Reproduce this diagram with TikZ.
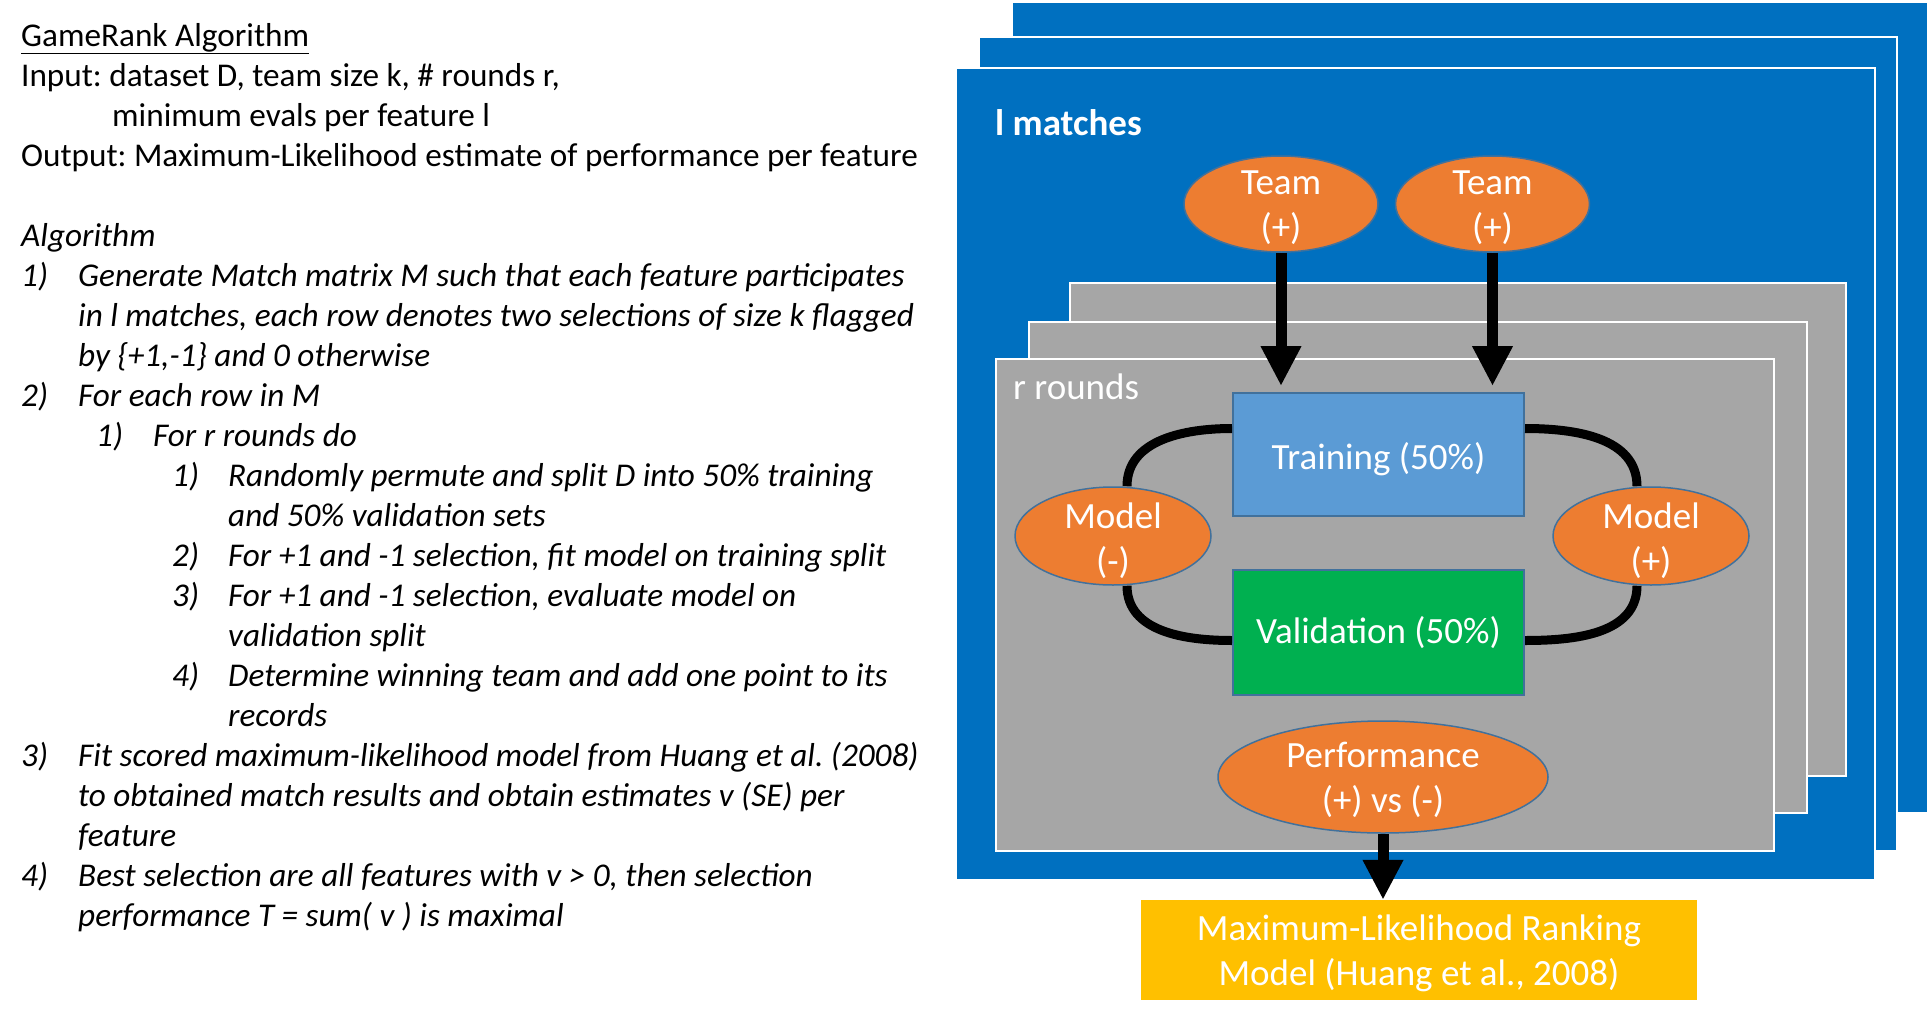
\documentclass[tikz,border=0pt]{standalone}
\usepackage{fontspec}
\setmainfont{Carlito}
\frenchspacing
\usetikzlibrary{positioning, arrows.meta, shapes.geometric}

\definecolor{matchblue}{HTML}{0070C0}
\definecolor{roundgrey}{HTML}{A6A6A6}
\definecolor{teamorange}{HTML}{ED7D31}
\definecolor{ovalline}{HTML}{41719C}
\definecolor{trainblue}{HTML}{5B9BD5}
\definecolor{validgreen}{HTML}{00B050}
\definecolor{rankyellow}{HTML}{FFC000}

% strut that moves the text of a node a little down
\newcommand{\lowstrut}[1]{\rule{0pt}{#1}}

\tikzset{
  algtxt/.style={anchor=base west, inner sep=0pt, font=\fontsize{33.2}{40}\selectfont},
  algit/.style={algtxt, font=\fontsize{33.2}{40}\selectfont\itshape},
  bluebox/.style={fill=matchblue, draw=white, line width=2.5pt},
  greybox/.style={fill=roundgrey, draw=white, line width=2.5pt},
  boxtitle/.style={anchor=base west, inner sep=0pt, text=white, font=\fontsize{37}{45}\selectfont},
  oval/.style={ellipse, fill=teamorange, draw=ovalline, line width=1.5pt, text=white, align=center,
    inner xsep=0pt, inner ysep=-14pt, font=\fontsize{37}{45}\selectfont},
  split/.style={rectangle, draw=ovalline, line width=2pt, text=white, minimum width=291pt,
    minimum height=123pt, font=\fontsize{37}{45}\selectfont},
  bigarrow/.style={line width=11pt, -{Triangle[width=38pt,length=40pt]}},
  link/.style={line width=9pt}
}

\begin{document}
\begin{tikzpicture}[x=1pt, y=1pt]
    \useasboundingbox (0,0) rectangle (1930,-1017);

    % Algorithm text
    \node[algtxt] (title) at (21,-46) {\underline{GameRank Algorithm}};
    \node[algtxt] (input) at (21,-86) {Input: dataset D, team size k, \# rounds r,};
    \node[algtxt] (input2) at (112,-126) {minimum evals per feature l};
    \node[algtxt] (output) at (21,-166) {Output: Maximum-Likelihood estimate of performance per feature};
    \node[algit] (algo) at (21,-246) {Algorithm};

    \foreach \y/\x/\n [count=\i] in {286/21/1), 406/21/2), 446/96/1), 486/172/1), 566/172/2),
        606/172/3), 686/172/4), 766/21/3), 886/21/4)}
        \node[algit] (num\i) at (\x,-\y) {\n};

    \foreach \y/\x/\t [count=\i] in {
        286/78/{Generate Match matrix M such that each feature participates},
        326/78/{in l matches, each row denotes two selections of size k flagged},
        366/78/{by \{+1,-1\} and 0 otherwise},
        406/78/{For each row in M},
        446/153/{For r rounds do},
        486/228/{Randomly permute and split D into 50\% training},
        526/228/{and 50\% validation sets},
        566/228/{For +1 and -1 selection, fit model on training split},
        606/228/{For +1 and -1 selection, evaluate model on},
        646/228/{validation split},
        686/228/{Determine winning team and add one point to its},
        726/228/{records},
        766/78/{Fit scored maximum-likelihood model from Huang et al. (2008)},
        806/78/{to obtained match results and obtain estimates v (SE) per},
        846/78/{feature},
        886/78/{Best selection are all features with v > 0, then selection},
        926/78/{performance T = sum( v ) is maximal}}
        \node[algit] (line\i) at (\x,-\y) {\t};

    % l matches frames
    \draw[bluebox] (1012,-2) rectangle (1928,-813);
    \draw[bluebox] (979,-37) rectangle (1897,-851);
    \draw[bluebox] (956,-68) rectangle (1875,-880);
    \node[boxtitle, font=\fontsize{37}{45}\selectfont\bfseries] (matches) at (995,-135) {l matches};

    % r rounds frames
    \draw[greybox] (1070,-283) rectangle (1846,-776);
    \draw[greybox] (1029,-322) rectangle (1807,-813);
    \draw[greybox] (996,-359) rectangle (1774,-851);
    \node[boxtitle] (rounds) at (1013,-399) {r rounds};

    % Define nodes
    \node[oval, minimum width=194pt, minimum height=96pt] (teamA) at (1281,-204) {\lowstrut{32pt}Team\\(+)};
    \node[oval, minimum width=194pt, minimum height=96pt, right=16pt of teamA] (teamB) {\lowstrut{32pt}Team\\(+)};
    \node[split, fill=trainblue] (train) at (1378.5,-454.5) {\lowstrut{37pt}Training (50\%)};
    \node[split, fill=validgreen, minimum height=125pt, below=52pt of train] (val) {Validation (50\%)};
    \node[oval, minimum width=196pt, minimum height=98pt] (mneg) at (1113,-536) {\lowstrut{35pt}Model\\(-)};
    \node[oval, minimum width=196pt, minimum height=98pt] (mpos) at (1651,-536) {\lowstrut{35pt}Model\\(+)};
    \node[oval, minimum width=330pt, minimum height=112pt] (perf) at (1383,-777) {\lowstrut{32pt}Performance\\(+) vs (-)};
    \node[rectangle, fill=rankyellow, text=white, align=center, minimum width=556pt, minimum height=100pt,
        font=\fontsize{37}{45}\selectfont] (rank) at (1419,-950) {\lowstrut{32pt}Maximum-Likelihood Ranking\\Model (Huang et al., 2008)};

    % Arrows from the teams into the training split
    \draw[bigarrow] (teamA) -- ([yshift=6pt]teamA |- train.north);
    \draw[bigarrow] (teamB) -- ([yshift=6pt]teamB |- train.north);

    % Links between splits and models
    \draw[link] ([yshift=26pt]train.west) to[out=180, in=90] ([xshift=14pt]mneg.north);
    \draw[link] ([xshift=14pt]mneg.south) to[out=-90, in=180] ([yshift=-8pt]val.west);
    \draw[link] ([yshift=26pt]train.east) to[out=0, in=90] ([xshift=-14pt]mpos.north);
    \draw[link] ([xshift=-14pt]mpos.south) to[out=-90, in=0] ([yshift=-8pt]val.east);

    % Arrow to the ranking model
    \draw[bigarrow] (perf) -- (perf |- rank.north);
\end{tikzpicture}
\end{document}
